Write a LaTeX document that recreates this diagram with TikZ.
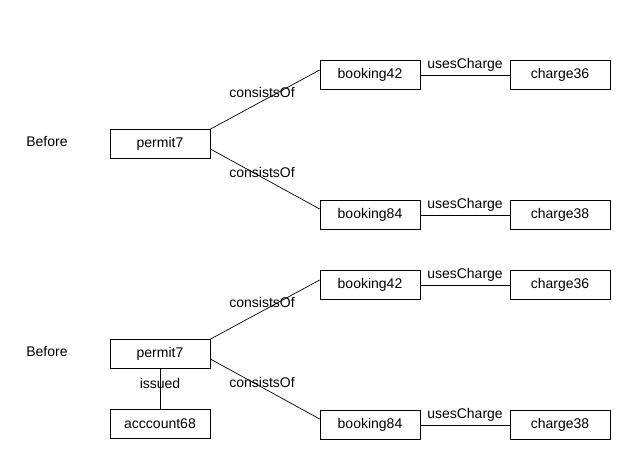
\documentclass[tikz,border=0pt]{standalone}
\usepackage{fontspec}
\setmainfont{Liberation Sans}
\usepackage{tikz}

\tikzset{
  obj/.style={draw, line width=0.7pt, minimum width=100pt, minimum height=29pt, inner sep=0pt},
  lbl/.style={inner sep=0pt},
  rel/.style={midway}
}

\begin{document}
\begin{tikzpicture}[x=1pt, y=-1pt,
    font=\fontsize{14pt}{16pt}\selectfont, line width=0.7pt]
      \useasboundingbox (0,0) rectangle (630,460);
      % before, first graph
      \node[lbl] (L1) at (47,142) {Before};
      \node[obj] (P1) at (160,144) {permit7};
      \node[obj] (B1) at (370,75) {booking42};
      \node[obj] (C1) at (560,75) {charge36};
      \node[obj] (B2) at (370,215) {booking84};
      \node[obj] (C2) at (560,215) {charge38};
      \draw (P1.north east) -- ([yshift=5pt]B1.west) node[rel, xshift=-3pt, yshift=7pt] {consistsOf};
      \draw ([yshift=-5pt]P1.east) -- ([yshift=6pt]B2.west) node[rel, xshift=-3pt, yshift=7pt] {consistsOf};
      \draw (B1) -- (C1) node[rel, anchor=south] {usesCharge};
      \draw (B2) -- (C2) node[rel, anchor=south] {usesCharge};
      % before, second graph
      \node[lbl] (L2) at (47,352) {Before};
      \node[obj] (P2) at (160,354) {permit7};
      \node[obj] (A2) at (160,424) {acccount68};
      \node[obj] (B3) at (370,285) {booking42};
      \node[obj] (C3) at (560,285) {charge36};
      \node[obj] (B4) at (370,425) {booking84};
      \node[obj] (C4) at (560,425) {charge38};
      \draw (P2) -- (A2) node[rel, yshift=6pt] {issued};
      \draw (P2.north east) -- ([yshift=5pt]B3.west) node[rel, xshift=-3pt, yshift=7pt] {consistsOf};
      \draw ([yshift=-5pt]P2.east) -- ([yshift=6pt]B4.west) node[rel, xshift=-3pt, yshift=7pt] {consistsOf};
      \draw (B3) -- (C3) node[rel, anchor=south] {usesCharge};
      \draw (B4) -- (C4) node[rel, anchor=south] {usesCharge};
    \end{tikzpicture}
\end{document}
